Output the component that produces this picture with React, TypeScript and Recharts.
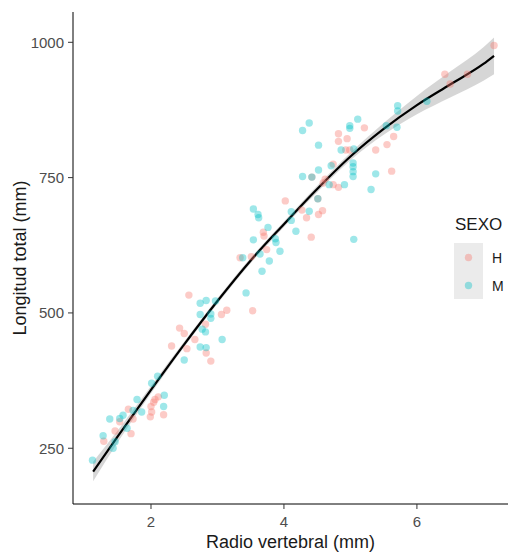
import {
  ComposedChart,
  Scatter,
  Line,
  Area,
  XAxis,
  YAxis,
} from "recharts";

// smooth fit (loess)
const fitX = [1.13, 1.5, 2.0, 2.5, 3.0, 3.5, 4.0, 4.5, 5.0, 5.5, 6.0, 6.5, 7.0, 7.16];
const fitY = [207, 272, 358, 442, 522, 597, 664, 729, 789, 840, 884, 922, 960, 975];
const fitLo = [189, 261, 351, 437, 517, 592, 659, 723, 782, 829, 867, 898, 929, 941];
const fitHi = [225, 283, 365, 447, 527, 602, 669, 735, 796, 851, 901, 946, 991, 1009];

// SEXO = H
const hX = [1.29, 1.46, 1.53, 1.66, 1.7, 1.73, 1.99, 2.01, 2.04, 2.11, 2.19, 2.06, 2.0, 2.31, 2.43, 2.5, 2.54, 2.66, 2.82, 2.83, 2.9, 2.57, 3.06, 3.14, 3.53, 3.34, 3.51, 3.74, 3.69, 3.7, 4.02, 4.27, 4.34, 4.41, 4.52, 4.58, 4.62, 4.59, 4.74, 4.82, 4.74, 4.93, 4.99, 5.38, 4.82, 4.95, 4.82, 5.21, 5.65, 5.55, 5.62, 6.42, 6.76, 6.5, 7.16, 4.42, 4.51];
const hY = [263, 282, 299, 322, 277, 304, 308, 317, 335, 345, 312, 340, 327, 439, 472, 462, 434, 451, 479, 426, 411, 533, 497, 505, 504, 602, 604, 617, 649, 642, 707, 690, 676, 640, 682, 689, 747, 740, 737, 732, 775, 801, 801, 801, 831, 822, 817, 842, 826, 811, 762, 941, 941, 923, 994, 751, 711];

// SEXO = M
const mX = [1.12, 1.28, 1.38, 1.43, 1.46, 1.53, 1.58, 1.64, 1.73, 1.79, 1.86, 2.01, 2.1, 2.2, 2.19, 2.5, 2.74, 2.83, 2.77, 2.82, 3.07, 2.74, 2.9, 2.9, 2.74, 2.83, 2.97, 3.43, 3.38, 3.67, 3.78, 3.94, 3.54, 3.87, 3.88, 3.76, 4.18, 4.11, 4.11, 3.54, 3.61, 3.62, 4.38, 5.05, 3.64, 4.28, 4.52, 4.71, 4.68, 4.91, 5.04, 5.04, 5.04, 5.04, 5.38, 5.31, 4.86, 5.05, 4.52, 4.28, 4.38, 4.99, 4.99, 5.11, 5.71, 5.71, 5.54, 5.7, 6.15, 4.42, 4.51];
const mY = [228, 273, 304, 250, 262, 305, 311, 287, 320, 340, 317, 370, 383, 348, 327, 413, 437, 436, 470, 465, 451, 497, 498, 490, 518, 523, 522, 537, 602, 577, 596, 614, 635, 637, 630, 658, 651, 671, 687, 692, 682, 676, 688, 636, 609, 752, 764, 772, 737, 737, 777, 770, 761, 752, 757, 728, 801, 803, 810, 837, 851, 846, 841, 858, 883, 873, 846, 843, 891, 751, 711];

const xTicks = [2, 4, 6];
const yTicks = [250, 500, 750, 1000];

const fitData = fitX.map((x, i) => ({ x, y: fitY[i], band: [fitLo[i], fitHi[i]] }));
const hData = hX.map((x, i) => ({ x, y: hY[i] }));
const mData = mX.map((x, i) => ({ x, y: mY[i] }));

const PINK = "#F8766D";
const TEAL = "#00BFC4";

const dot = (color: string) => (props: any) =>
  <circle cx={props.cx} cy={props.cy} r={3.7} fill={color} fillOpacity={0.38} />;

const tickStyle = { fontSize: 15, fill: "#4D4D4D", fontFamily: "Liberation Sans, Arial, sans-serif" };
const labelStyle = { fontSize: 18, fill: "#1A1A1A", fontFamily: "Liberation Sans, Arial, sans-serif" };

export default function App() {
  return (
    <div style={{ position: "absolute", left: 0, top: 0, width: 508, height: 553, background: "#fff" }}>
      <ComposedChart
        width={508}
        height={553}
        data={fitData}
        margin={{ top: 12, right: 0, bottom: 0, left: 0 }}
      >
        <XAxis
          type="number"
          dataKey="x"
          domain={[0.827, 7.37]}
          allowDataOverflow
          ticks={xTicks}
          height={49}
          stroke="#000"
          tickLine={{ stroke: "#333" }}
          tickSize={5}
          tickMargin={7}
          tick={tickStyle}
          label={{ value: "Radio vertebral (mm)", position: "insideBottom", offset: 5, style: labelStyle }}
        />
        <YAxis
          type="number"
          dataKey="y"
          domain={[147, 1056]}
          allowDataOverflow
          ticks={yTicks}
          width={73}
          stroke="#000"
          tickLine={{ stroke: "#333" }}
          tickSize={5}
          tickMargin={4}
          tick={tickStyle}
          label={{ value: "Longitud total (mm)", angle: -90, position: "insideLeft", offset: 20, style: { ...labelStyle, textAnchor: "middle" } }}
        />
        <Scatter data={hData} dataKey="y" shape={dot(PINK)} isAnimationActive={false} />
        <Scatter data={mData} dataKey="y" shape={dot(TEAL)} isAnimationActive={false} />
        <Area
          type="monotone"
          dataKey="band"
          stroke="none"
          fill="#999999"
          fillOpacity={0.4}
          isAnimationActive={false}
        />
        <Line
          type="monotone"
          dataKey="y"
          stroke="#000"
          strokeWidth={2.2}
          dot={false}
          isAnimationActive={false}
        />
      </ComposedChart>

      <div style={{ position: "absolute", left: 455, top: 215, fontFamily: "Liberation Sans, Arial, sans-serif", fontSize: 17, color: "#1A1A1A" }}>
        SEXO
      </div>
      <svg style={{ position: "absolute", left: 454, top: 243 }} width={54} height={57}>
        <rect x={0} y={0} width={29} height={56} fill="#EBEBEB" />
        <circle cx={14.5} cy={14.5} r={3.7} fill={PINK} fillOpacity={0.38} />
        <circle cx={14.5} cy={42.5} r={3.7} fill={TEAL} fillOpacity={0.38} />
        <text x={38} y={20} fontSize={14} fill="#1A1A1A" fontFamily="Liberation Sans, Arial, sans-serif">H</text>
        <text x={38} y={48} fontSize={14} fill="#1A1A1A" fontFamily="Liberation Sans, Arial, sans-serif">M</text>
      </svg>
    </div>
  );
}
